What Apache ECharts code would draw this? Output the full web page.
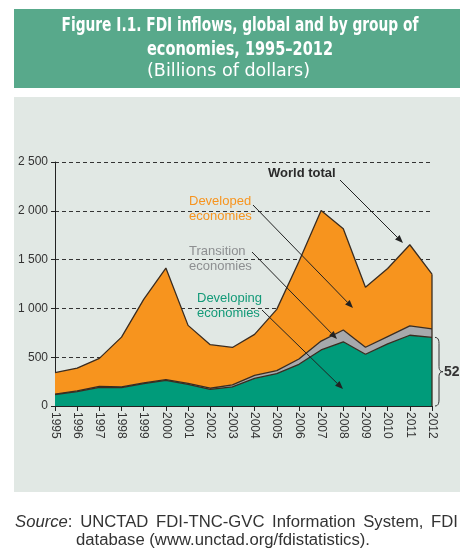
<!DOCTYPE html>
<html><head><meta charset="utf-8">
<script src="https://cdn.jsdelivr.net/npm/echarts@6/dist/echarts.min.js"></script>
<style>html,body{margin:0;padding:0;background:#fff}#c{width:473px;height:556px}</style>
</head><body><div id="c"></div>
<script>
const years = ['1995','1996','1997','1998','1999','2000','2001','2002','2003','2004','2005','2006','2007','2008','2009','2010','2011','2012'];
const developing = [117,148,190,188,230,263,222,171,197,283,332,427,574,658,530,637,725,703];
const transition = [4,6,11,8,7,7,9,11,20,30,31,55,91,121,72,74,96,87];
const developed  = [220,235,287,510,855,1143,595,446,383,421,627,999,1337,1037,614,698,831,561];
const yTickValues = [0,500,1000,1500,2000,2500];
const bracketLabel = '52';

const C_DEV = '#f7941e', C_TRA = '#a7a9ac', C_DVG = '#009b7a', C_LINE = '#3a2c20';

const chart = echarts.init(document.getElementById('c'), null, {renderer:'canvas'});

const mc = document.createElement('canvas').getContext('2d');
function tw(text, font){ mc.font = font; return mc.measureText(text).width; }

function fitText(text, cx, cy, font, target, color){
  const w = tw(text, font);
  return {type:'text', x:cx, y:cy, scaleX: target / w, z:10,
    style:{text:text, font:font, fill:color, textAlign:'center', textVerticalAlign:'middle'}};
}

function arrow(x1,y1,x2,y2){
  const a = Math.atan2(y2-y1, x2-x1), L = 8, W = 3.2;
  const bx = x2 - L*Math.cos(a), by = y2 - L*Math.sin(a);
  return [
    {type:'line', z:20, shape:{x1:x1,y1:y1,x2:bx,y2:by}, style:{stroke:'#222', lineWidth:1}},
    {type:'polygon', z:20, shape:{points:[[x2,y2],[bx+W*Math.sin(a), by-W*Math.cos(a)],[bx-W*Math.sin(a), by+W*Math.cos(a)]]}, style:{fill:'#222'}}
  ];
}

function quad(p0,p1,p2,n){
  const pts=[];
  for(let i=0;i<=n;i++){const t=i/n;
    pts.push([(1-t)*(1-t)*p0[0]+2*(1-t)*t*p1[0]+t*t*p2[0],(1-t)*(1-t)*p0[1]+2*(1-t)*t*p1[1]+t*t*p2[1]]);}
  return pts;
}

// words: array of arrays of [text, font] segments
function justify(words, x0, x1, y, color, sx){
  const widths = words.map(segs=>segs.reduce((s,g)=>s+tw(g[0],g[1])*sx,0));
  const sum = widths.reduce((a,b)=>a+b,0);
  const gap = (x1-x0-sum)/(words.length-1);
  let x = x0; const out = [];
  words.forEach((segs,i)=>{
    let xx = x;
    segs.forEach(g=>{
      out.push({type:'text', x:xx, y:y, z:10, scaleX:sx, style:{text:g[0], font:g[1], fill:color, textVerticalAlign:'middle'}});
      xx += tw(g[0],g[1])*sx;
    });
    x += widths[i] + gap;
  });
  return out;
}

const srcFont = '16px "Liberation Sans", Arial, sans-serif';
const srcItal = 'italic 16px "Liberation Sans", Arial, sans-serif';
const src2 = 'database (www.unctad.org/fdistatistics).';
const srcScale = 294 / tw(src2, srcFont);

const option = {
  animation:false,
  backgroundColor:'#fff',
  grid:{left:55, right:41, top:162, bottom:150, containLabel:false},
  xAxis:{type:'category', data:years, boundaryGap:false,
    axisLine:{lineStyle:{color:'#222', width:1}},
    axisTick:{show:true, length:5, lineStyle:{color:'#222'}},
    axisLabel:{rotate:-90, color:'#333', fontSize:12, margin:6, fontFamily:'"Liberation Sans", Arial, sans-serif', interval:0}},
  yAxis:{type:'value', min:0, max:2500, interval:500,
    axisLine:{show:true, lineStyle:{color:'#222'}},
    axisTick:{show:true, length:4, lineStyle:{color:'#222'}},
    splitLine:{show:true, lineStyle:{color:'#333', type:[4,3], width:1}},
    axisLabel:{color:'#333', fontSize:12, margin:7, fontFamily:'"Liberation Sans", Arial, sans-serif',
      formatter:v=> yTickValues.includes(v) ? String(v).replace(/\B(?=(\d{3})+(?!\d))/g,' ') : ''}},
  series:[
    {name:'Developing economies', type:'line', stack:'t', data:developing, showSymbol:false, symbol:'none',
      lineStyle:{color:C_LINE, width:1.3}, areaStyle:{color:C_DVG, opacity:1}, z:3},
    {name:'Transition economies', type:'line', stack:'t', data:transition, showSymbol:false, symbol:'none',
      lineStyle:{color:C_LINE, width:1.3}, areaStyle:{color:C_TRA, opacity:1}, z:2},
    {name:'Developed economies', type:'line', stack:'t', data:developed, showSymbol:false, symbol:'none',
      lineStyle:{color:C_LINE, width:1.3}, areaStyle:{color:C_DEV, opacity:1}, z:1}
  ]
};
chart.setOption(option);

const last = years.length-1;
const world = years.map((_,i)=>developing[i]+transition[i]+developed[i]);
const pTop = chart.convertToPixel({seriesIndex:0}, [last, world[last]]);
const pDvg = chart.convertToPixel({seriesIndex:0}, [last, developing[last]]);
const p0 = chart.convertToPixel({seriesIndex:0}, [last, 0]);
const bx = p0[0] + 3, by1 = pDvg[1], by2 = p0[1], bm = (by1+by2)/2;
const bracePts = [].concat(
  quad([bx,by1],[bx+4,by1],[bx+4,by1+6],6),
  quad([bx+4,bm-5],[bx+4,bm],[bx+8,bm],6),
  quad([bx+8,bm],[bx+4,bm],[bx+4,bm+5],6),
  quad([bx+4,by2-6],[bx+4,by2],[bx,by2],6)
);

const titleFont = 'bold 20px "Liberation Sans Narrow", "DejaVu Sans Condensed", sans-serif';
const subFont = '18px "Liberation Sans Narrow", "DejaVu Sans Condensed", sans-serif';
const annFont = '13px "Liberation Sans", Arial, sans-serif';

const graphic = [
  {type:'rect', z:-10, shape:{x:14, y:97, width:446, height:395}, style:{fill:'#e1e8e4'}},
  {type:'rect', z:0, shape:{x:14, y:9, width:446, height:79}, style:{fill:'#58a98b'}},
  fitText('Figure I.1. FDI inflows, global and by group of', 240, 26, titleFont, 357, '#fff'),
  fitText('economies, 1995\u20132012', 240, 50, titleFont, 186, '#fff'),
  fitText('(Billions of dollars)', 228.5, 71, subFont, 163, '#fff'),
  {type:'text', z:20, x:268, y:173, style:{text:'World total', font:'bold 13px "Liberation Sans", Arial, sans-serif', fill:'#2a2a2a', textVerticalAlign:'middle'}},
  {type:'text', z:20, x:189, y:201, style:{text:'Developed', font:annFont, fill:C_DEV, textVerticalAlign:'middle'}},
  {type:'text', z:20, x:189, y:216, style:{text:'economies', font:annFont, fill:C_DEV, textVerticalAlign:'middle'}},
  {type:'text', z:20, x:189, y:251, style:{text:'Transition', font:annFont, fill:'#8d8f91', textVerticalAlign:'middle'}},
  {type:'text', z:20, x:189, y:266, style:{text:'economies', font:annFont, fill:'#8d8f91', textVerticalAlign:'middle'}},
  {type:'text', z:20, x:197, y:298, style:{text:'Developing', font:annFont, fill:'#139a78', textVerticalAlign:'middle'}},
  {type:'text', z:20, x:197, y:313, style:{text:'economies', font:annFont, fill:'#139a78', textVerticalAlign:'middle'}},
  ...arrow(340,180,403,243),
  ...arrow(253,205,353,308),
  ...arrow(252,252,337,339),
  ...arrow(262,310,343,389),
  {type:'line', z:15, shape:{x1:pTop[0], y1:pTop[1], x2:p0[0], y2:p0[1]}, style:{stroke:C_LINE, lineWidth:1.3}},
  {type:'polyline', z:15, shape:{points:bracePts}, style:{stroke:'#333', lineWidth:1, fill:null}},
  {type:'text', z:15, x:bx+9, y:bm, style:{text:bracketLabel, font:'bold 14px "Liberation Sans Narrow", "Liberation Sans", sans-serif', fill:'#333', textVerticalAlign:'middle'}},
  ...justify([[['Source',srcItal],[':',srcFont]], [['UNCTAD',srcFont]], [['FDI-TNC-GVC',srcFont]], [['Information',srcFont]], [['System,',srcFont]], [['FDI',srcFont]]],
    15, 458, 523, '#333', srcScale),
  {type:'text', z:10, x:76, y:541, scaleX:srcScale, style:{text:src2, font:srcFont, fill:'#333', textVerticalAlign:'middle'}}
];
chart.setOption({graphic:graphic});
</script></body></html>
